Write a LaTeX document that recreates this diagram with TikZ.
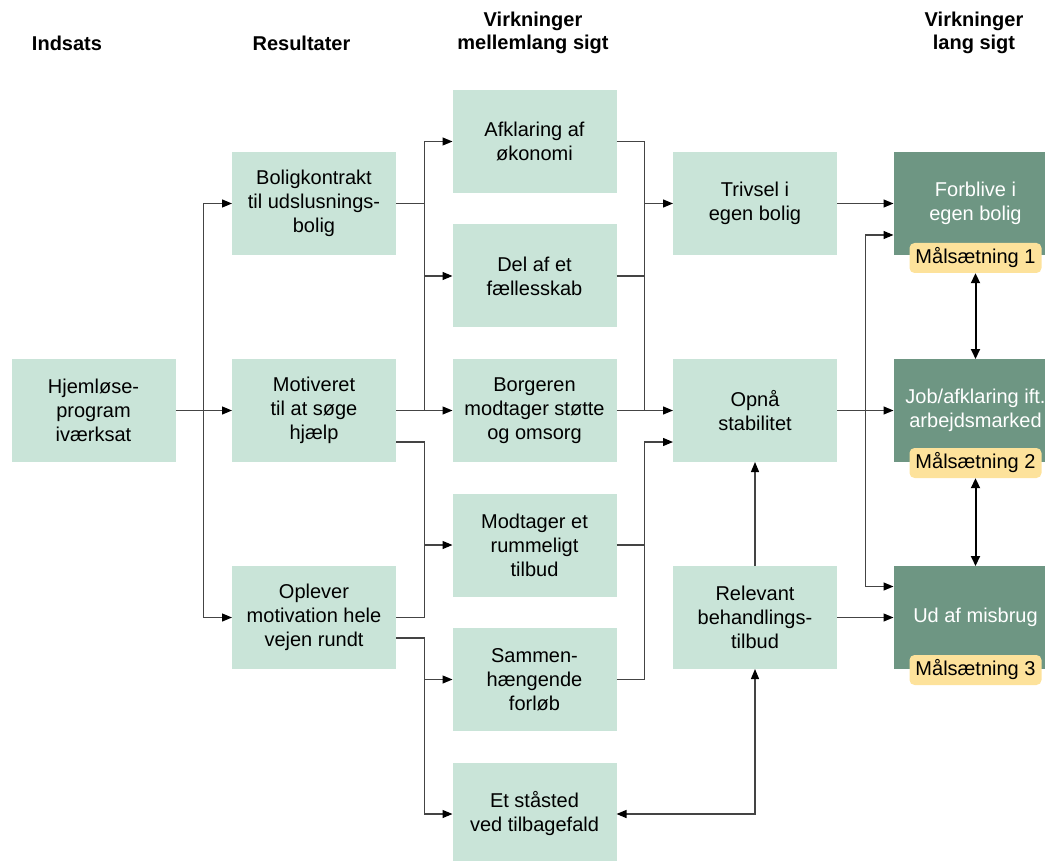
\documentclass[tikz,border=0pt]{standalone}
\usepackage{fontspec}
\setmainfont{Liberation Sans}
\usetikzlibrary{arrows.meta, positioning, calc}
\definecolor{boxgreen}{HTML}{C9E4D8}
\definecolor{goalgreen}{HTML}{6E9683}
\definecolor{goalyellow}{HTML}{FDE29B}
\definecolor{linegray}{HTML}{444444}

\begin{document}
\begin{tikzpicture}[
    x=1pt, y=1pt,
    box/.style={fill=boxgreen, minimum width=164pt, minimum height=103pt, inner sep=2pt, outer sep=0pt, align=center, font=\fontsize{20pt}{24pt}\selectfont},
    goal/.style={box, fill=goalgreen, text=white},
    tag/.style={fill=goalyellow, rounded corners=5pt, minimum width=132pt, minimum height=30pt, inner sep=0pt, font=\fontsize{20pt}{24pt}\selectfont},
    head/.style={align=center, font=\fontsize{20pt}{23pt}\selectfont\bfseries},
    line/.style={linegray, line width=1.2pt},
    arrow/.style={line, -{Triangle[length=10pt, width=8pt, color=black]}},
    both/.style={line, {Triangle[length=10pt, width=8pt, color=black]}-{Triangle[length=10pt, width=8pt, color=black]}},
    goalarrow/.style={black, line width=2pt, {Triangle[length=10pt, width=9pt]}-{Triangle[length=10pt, width=9pt]}}
]
    \useasboundingbox (0,0) rectangle (1045,-861);
    \clip (0,0) rectangle (1045,-861);

    % Column headings
    \node[head] (hInd) at (67,-43) {Indsats};
    \node[head] (hRes) at (301.5,-43) {Resultater};
    \node[head] (hMid) at (533,-33) {Virkninger\\mellemlang sigt};
    \node[head] (hLang) at (974,-33) {Virkninger\\lang sigt};

    % Indsats and results
    \node[box] (hjem) at (93.5,-410.5) {Hjemløse-\\program\\iværksat};
    \node[box, right=56.5pt of hjem] (motiv) {Motiveret\\til at søge\\hjælp};
    \node[box, above=104pt of motiv] (bolig) {Boligkontrakt\\til udslusnings-\\bolig};
    \node[box, below=104pt of motiv] (oplev) {Oplever\\motivation hele\\vejen rundt};

    % Medium term
    \node[box, right=56.5pt of motiv] (borger) {Borgeren\\modtager støtte\\og omsorg};
    \node[box, above=31.5pt of borger] (fael) {Del af et\\fællesskab};
    \node[box, above=31.5pt of fael] (afkl) {Afklaring af\\økonomi};
    \node[box, below=31.5pt of borger] (rumm) {Modtager et\\rummeligt\\tilbud};
    \node[box, below=31.5pt of rumm] (sammen) {Sammen-\\hængende\\forløb};
    \node[box, below=31.5pt of sammen] (staa) {Et ståsted\\ved tilbagefald};

    \node[box, right=56.5pt of borger] (opnaa) {Opnå\\stabilitet};
    \node[box, above=104pt of opnaa] (trivsel) {Trivsel i\\egen bolig};
    \node[box, below=104pt of opnaa] (relev) {Relevant\\behandlings-\\tilbud};

    % Long term goals
    \node[goal, right=56.5pt of opnaa] (job) {Job/afklaring ift.\\arbejdsmarked};
    \node[goal, above=104pt of job] (forbl) {Forblive i\\egen bolig};
    \node[goal, below=104pt of job] (udaf) {Ud af misbrug};
    \node[tag] (maal1) at ([yshift=-3pt]forbl.south) {Målsætning 1};
    \node[tag] (maal2) at ([yshift=-1pt]job.south) {Målsætning 2};
    \node[tag] (maal3) at ([yshift=-1pt]udaf.south) {Målsætning 3};

    % Indsats -> Resultater
    \coordinate (m1) at ($(hjem.east)!0.5!(motiv.west)$);
    \draw[arrow] (hjem) -- (motiv);
    \draw[arrow] (m1) |- (bolig);
    \draw[arrow] (m1) |- (oplev);

    % Resultater -> mellemlang sigt
    \coordinate (m2) at ($(motiv.east)!0.5!(borger.west)$);
    \draw[line] (bolig) -- (bolig -| m2);
    \draw[arrow] (m2 |- borger) |- (afkl);
    \draw[arrow] (m2 |- fael) -- (fael);
    \draw[arrow] (motiv) -- (borger);
    \coordinate (motivLow) at ([yshift=-31.5pt]motiv.east);
    \draw[line] (motivLow) -| (m2 |- oplev) -- (oplev);
    \draw[arrow] (m2 |- rumm) -- (rumm);
    \coordinate (oplevLow) at ([yshift=-20.5pt]oplev.east);
    \draw[arrow] (oplevLow) -| (m2 |- staa) -- (staa);
    \draw[arrow] (m2 |- sammen) -- (sammen);

    % mellemlang sigt -> stabilitet
    \coordinate (m3) at ($(borger.east)!0.5!(opnaa.west)$);
    \draw[line] (afkl) -| (m3 |- opnaa);
    \draw[arrow] (m3 |- trivsel) -- (trivsel);
    \draw[line] (fael) -- (fael -| m3);
    \draw[arrow] (borger) -- (opnaa);
    \coordinate (opnaaLow) at ([yshift=-31.5pt]opnaa.west);
    \draw[line] (rumm) -- (rumm -| m3);
    \draw[arrow] (sammen) -| (m3 |- opnaaLow) -- (opnaaLow);
    \draw[arrow] (relev) -- (opnaa);
    \draw[both] (relev) |- (staa);

    % -> lang sigt
    \coordinate (m4) at ($(opnaa.east)!0.5!(job.west)$);
    \draw[arrow] (trivsel) -- (forbl);
    \draw[arrow] (opnaa) -- (job);
    \draw[arrow] (relev) -- (udaf);
    \coordinate (forblLow) at ([yshift=-31.5pt]forbl.west);
    \coordinate (udafHigh) at ([yshift=31pt]udaf.west);
    \draw[arrow] (m4 |- opnaa) |- (forblLow);
    \draw[arrow] (m4 |- opnaa) |- (udafHigh);
    \draw[goalarrow] (maal1) -- (job);
    \draw[goalarrow] (maal2) -- (udaf);

\end{tikzpicture}
\end{document}
